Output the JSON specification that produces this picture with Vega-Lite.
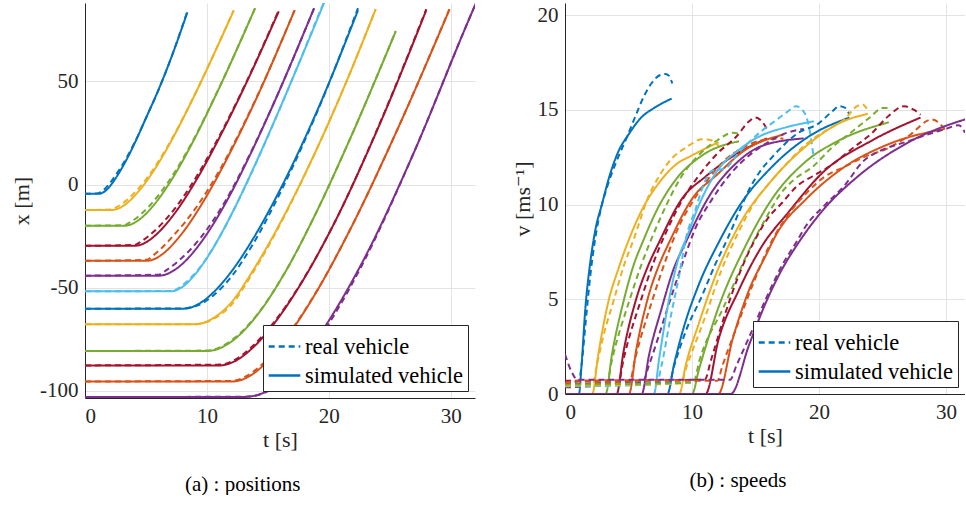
{
"$schema": "https://vega.github.io/schema/vega-lite/v6.json",
"padding": {"left": 10, "top": 3, "right": 0, "bottom": 0},
"spacing": 36,
"config": {
 "font": "'Liberation Serif', 'DejaVu Serif', serif",
 "view": {"stroke": null},
 "axis": {"domainColor": "#262626", "gridColor": "#e3e3e3", "ticks": false, "labelFont": "'Liberation Serif', 'DejaVu Serif', serif", "labelFontSize": 21, "labelColor": "#262626", "titleFont": "'Liberation Serif', 'DejaVu Serif', serif", "titleFontSize": 22, "titleFontWeight": "normal", "titleColor": "#262626", "labelPadding": 7},
 "legend": {"labelFont": "'Liberation Serif', 'DejaVu Serif', serif", "labelFontSize": 22.5, "labelColor": "#000", "fillColor": "white", "strokeColor": "#262626", "padding": 4, "symbolType": "stroke", "symbolSize": 1000, "symbolStrokeWidth": 2.5, "symbolStrokeColor": "#0072BD", "rowPadding": 0, "labelOffset": 3, "offset": 7},
 "title": {"font": "'Liberation Serif', 'DejaVu Serif', serif", "fontSize": 21, "fontWeight": "normal", "color": "#000"}
},
"resolve": {"scale": {"color": "independent", "strokeDash": "independent"}, "legend": {"strokeDash": "independent", "color": "independent"}},
"datasets": {
"pos": [
{"n":1,"k":"s","t":0,"x":-4.5},{"n":1,"k":"s","t":1.1,"x":-4.5},{"n":1,"k":"s","t":1.3,"x":-4.35},{"n":1,"k":"s","t":1.6,"x":-3.45},{"n":1,"k":"s","t":2,"x":-1.15},{"n":1,"k":"s","t":2.4,"x":2},{"n":1,"k":"s","t":2.9,"x":6.7},{"n":1,"k":"s","t":3.5,"x":13.1},{"n":1,"k":"s","t":4.2,"x":21.6},{"n":1,"k":"s","t":5,"x":32.2},{"n":1,"k":"s","t":6,"x":45.5},{"n":1,"k":"s","t":7,"x":60.3},{"n":1,"k":"s","t":8.4,"x":83.5},
{"n":1,"k":"r","t":0,"x":-4.5},{"n":1,"k":"r","t":1.1,"x":-4.2},{"n":1,"k":"r","t":1.3,"x":-3.55},{"n":1,"k":"r","t":1.6,"x":-2.25},{"n":1,"k":"r","t":2,"x":0.35},{"n":1,"k":"r","t":2.4,"x":3.5},{"n":1,"k":"r","t":2.9,"x":7.9},{"n":1,"k":"r","t":3.5,"x":13.9},{"n":1,"k":"r","t":4.2,"x":21.9},{"n":1,"k":"r","t":5,"x":32.2},{"n":1,"k":"r","t":6,"x":45.4},{"n":1,"k":"r","t":7,"x":60.3},{"n":1,"k":"r","t":8.4,"x":84},
{"n":2,"k":"s","t":0,"x":-12.4},{"n":2,"k":"s","t":2.15,"x":-12.4},{"n":2,"k":"s","t":2.6,"x":-11.95},{"n":2,"k":"s","t":3.46,"x":-8.94},{"n":2,"k":"s","t":4.2,"x":-4.65},{"n":2,"k":"s","t":5,"x":1.23},{"n":2,"k":"s","t":6.2,"x":12.03},{"n":2,"k":"s","t":7.4,"x":24.66},{"n":2,"k":"s","t":8.7,"x":39.77},{"n":2,"k":"s","t":10,"x":55.83},{"n":2,"k":"s","t":12.2,"x":84.3},
{"n":2,"k":"r","t":0,"x":-12.4},{"n":2,"k":"r","t":2.15,"x":-12.1},{"n":2,"k":"r","t":2.6,"x":-10.95},{"n":2,"k":"r","t":3.46,"x":-7.44},{"n":2,"k":"r","t":4.2,"x":-3.15},{"n":2,"k":"r","t":5,"x":2.43},{"n":2,"k":"r","t":6.2,"x":12.83},{"n":2,"k":"r","t":7.4,"x":25.06},{"n":2,"k":"r","t":8.7,"x":39.9},{"n":2,"k":"r","t":10,"x":55.9},{"n":2,"k":"r","t":12.2,"x":84.5},
{"n":3,"k":"s","t":0,"x":-20},{"n":3,"k":"s","t":3.2,"x":-20},{"n":3,"k":"s","t":3.7,"x":-19.48},{"n":3,"k":"s","t":4.65,"x":-16.1},{"n":3,"k":"s","t":5.4,"x":-11.68},{"n":3,"k":"s","t":6.1,"x":-6.5},{"n":3,"k":"s","t":7.3,"x":4.18},{"n":3,"k":"s","t":8.7,"x":18.95},{"n":3,"k":"s","t":10.8,"x":44.15},{"n":3,"k":"s","t":13.96,"x":85.55},
{"n":3,"k":"r","t":0,"x":-20},{"n":3,"k":"r","t":3.2,"x":-19.7},{"n":3,"k":"r","t":3.7,"x":-18.28},{"n":3,"k":"r","t":4.65,"x":-14.1},{"n":3,"k":"r","t":5.4,"x":-9.68},{"n":3,"k":"r","t":6.1,"x":-4.7},{"n":3,"k":"r","t":7.3,"x":5.38},{"n":3,"k":"r","t":8.7,"x":19.55},{"n":3,"k":"r","t":10.8,"x":44.35},{"n":3,"k":"r","t":13.96,"x":85.6},
{"n":4,"k":"s","t":0,"x":-29.7},{"n":4,"k":"s","t":4.07,"x":-29.7},{"n":4,"k":"s","t":4.6,"x":-29.12},{"n":4,"k":"s","t":5.6,"x":-25.52},{"n":4,"k":"s","t":6.5,"x":-20.25},{"n":4,"k":"s","t":7.4,"x":-13.63},{"n":4,"k":"s","t":9.2,"x":2.84},{"n":4,"k":"s","t":11.1,"x":23.55},{"n":4,"k":"s","t":13.2,"x":48.8},{"n":4,"k":"s","t":15.9,"x":83.97},
{"n":4,"k":"r","t":0,"x":-29.7},{"n":4,"k":"r","t":4.07,"x":-29.3},{"n":4,"k":"r","t":4.6,"x":-27.62},{"n":4,"k":"r","t":5.6,"x":-23.02},{"n":4,"k":"r","t":6.5,"x":-17.75},{"n":4,"k":"r","t":7.4,"x":-11.43},{"n":4,"k":"r","t":9.2,"x":4.34},{"n":4,"k":"r","t":11.1,"x":24.35},{"n":4,"k":"r","t":13.2,"x":49.2},{"n":4,"k":"r","t":15.9,"x":84.5},
{"n":5,"k":"s","t":0,"x":-37},{"n":5,"k":"s","t":5.04,"x":-37},{"n":5,"k":"s","t":5.6,"x":-36.36},{"n":5,"k":"s","t":6.5,"x":-33.07},{"n":5,"k":"s","t":7.4,"x":-27.76},{"n":5,"k":"s","t":8.2,"x":-21.84},{"n":5,"k":"s","t":10,"x":-5.37},{"n":5,"k":"s","t":12,"x":16.53},{"n":5,"k":"s","t":14,"x":40.93},{"n":5,"k":"s","t":17.2,"x":84.5},
{"n":5,"k":"r","t":0,"x":-37},{"n":5,"k":"r","t":5.04,"x":-36.5},{"n":5,"k":"r","t":5.6,"x":-34.36},{"n":5,"k":"r","t":6.5,"x":-29.57},{"n":5,"k":"r","t":7.4,"x":-23.76},{"n":5,"k":"r","t":8.2,"x":-18.34},{"n":5,"k":"r","t":10,"x":-3.37},{"n":5,"k":"r","t":12,"x":17.33},{"n":5,"k":"r","t":14,"x":41.23},{"n":5,"k":"r","t":17.2,"x":84.5},
{"n":6,"k":"s","t":0,"x":-44.2},{"n":6,"k":"s","t":6.04,"x":-44.2},{"n":6,"k":"s","t":6.6,"x":-43.64},{"n":6,"k":"s","t":7.6,"x":-40.39},{"n":6,"k":"s","t":8.5,"x":-35.44},{"n":6,"k":"s","t":9.5,"x":-28.19},{"n":6,"k":"s","t":11.5,"x":-9.39},{"n":6,"k":"s","t":13.5,"x":13.81},{"n":6,"k":"s","t":15.5,"x":39.51},{"n":6,"k":"s","t":18.8,"x":85.5},
{"n":6,"k":"r","t":0,"x":-44.2},{"n":6,"k":"r","t":6.04,"x":-43.7},{"n":6,"k":"r","t":6.6,"x":-41.84},{"n":6,"k":"r","t":7.6,"x":-37.39},{"n":6,"k":"r","t":8.5,"x":-32.44},{"n":6,"k":"r","t":9.5,"x":-25.69},{"n":6,"k":"r","t":11.5,"x":-8.19},{"n":6,"k":"r","t":13.5,"x":14.31},{"n":6,"k":"r","t":15.5,"x":39.6},{"n":6,"k":"r","t":18.8,"x":85.5},
{"n":7,"k":"s","t":0,"x":-51.8},{"n":7,"k":"s","t":7,"x":-51.8},{"n":7,"k":"s","t":7.4,"x":-51.44},{"n":7,"k":"s","t":8,"x":-49.61},{"n":7,"k":"s","t":9,"x":-43.81},{"n":7,"k":"s","t":9.6,"x":-39.13},{"n":7,"k":"s","t":10.5,"x":-30.94},{"n":7,"k":"s","t":11.9,"x":-15.82},{"n":7,"k":"s","t":13.7,"x":6.32},{"n":7,"k":"s","t":15.3,"x":27.52},{"n":7,"k":"s","t":17.5,"x":57.99},{"n":7,"k":"s","t":19.6,"x":87.9},{"n":7,"k":"s","t":19.8,"x":90.8},
{"n":7,"k":"r","t":0,"x":-51.8},{"n":7,"k":"r","t":7,"x":-51.6},{"n":7,"k":"r","t":7.4,"x":-51.1},{"n":7,"k":"r","t":8,"x":-48.8},{"n":7,"k":"r","t":9,"x":-43.2},{"n":7,"k":"r","t":9.6,"x":-38.9},{"n":7,"k":"r","t":10.5,"x":-30.9},{"n":7,"k":"r","t":11.9,"x":-15.9},{"n":7,"k":"r","t":13.7,"x":6.1},{"n":7,"k":"r","t":15.3,"x":27.3},{"n":7,"k":"r","t":17.5,"x":58},{"n":7,"k":"r","t":19.6,"x":88.3},{"n":7,"k":"r","t":19.8,"x":91},
{"n":8,"k":"s","t":0,"x":-60.2},{"n":8,"k":"s","t":8.06,"x":-60.2},{"n":8,"k":"s","t":8.6,"x":-59.77},{"n":8,"k":"s","t":9.3,"x":-58.0},{"n":8,"k":"s","t":10.55,"x":-52.2},{"n":8,"k":"s","t":12.1,"x":-41.5},{"n":8,"k":"s","t":13.7,"x":-27.2},{"n":8,"k":"s","t":16.3,"x":0.9},{"n":8,"k":"s","t":19.2,"x":37.8},{"n":8,"k":"s","t":22.4,"x":84.5},
{"n":8,"k":"r","t":0,"x":-60.2},{"n":8,"k":"r","t":8.06,"x":-60.1},{"n":8,"k":"r","t":8.6,"x":-59.6},{"n":8,"k":"r","t":9.3,"x":-58.5},{"n":8,"k":"r","t":10.55,"x":-53.7},{"n":8,"k":"r","t":12.1,"x":-44},{"n":8,"k":"r","t":13.7,"x":-29.7},{"n":8,"k":"r","t":16.3,"x":-0.6},{"n":8,"k":"r","t":19.2,"x":37.3},{"n":8,"k":"r","t":22.4,"x":85.5},
{"n":9,"k":"s","t":0,"x":-67.8},{"n":9,"k":"s","t":9,"x":-67.8},{"n":9,"k":"s","t":9.5,"x":-67.43},{"n":9,"k":"s","t":10.55,"x":-64.67},{"n":9,"k":"s","t":12,"x":-57.24},{"n":9,"k":"s","t":13.7,"x":-42.5},{"n":9,"k":"s","t":16.3,"x":-15.5},{"n":9,"k":"s","t":19,"x":17},{"n":9,"k":"s","t":21.6,"x":52},{"n":9,"k":"s","t":23.85,"x":85},
{"n":9,"k":"r","t":0,"x":-67.8},{"n":9,"k":"r","t":9,"x":-67.7},{"n":9,"k":"r","t":9.5,"x":-67.4},{"n":9,"k":"r","t":10.55,"x":-65.2},{"n":9,"k":"r","t":12,"x":-58.4},{"n":9,"k":"r","t":13.7,"x":-43.5},{"n":9,"k":"r","t":16.3,"x":-16},{"n":9,"k":"r","t":19,"x":17},{"n":9,"k":"r","t":21.6,"x":52},{"n":9,"k":"r","t":23.85,"x":85},
{"n":10,"k":"s","t":0,"x":-80.7},{"n":10,"k":"s","t":10,"x":-80.7},{"n":10,"k":"s","t":10.55,"x":-80.34},{"n":10,"k":"s","t":12.1,"x":-75.77},{"n":10,"k":"s","t":14.2,"x":-62.75},{"n":10,"k":"s","t":16.3,"x":-43.75},{"n":10,"k":"s","t":19,"x":-13.24},{"n":10,"k":"s","t":21.6,"x":20.17},{"n":10,"k":"s","t":25.5,"x":74.28},
{"n":10,"k":"r","t":0,"x":-80.7},{"n":10,"k":"r","t":10,"x":-80.5},{"n":10,"k":"r","t":10.55,"x":-80},{"n":10,"k":"r","t":12.1,"x":-75.2},{"n":10,"k":"r","t":14.2,"x":-62.5},{"n":10,"k":"r","t":16.3,"x":-43.75},{"n":10,"k":"r","t":19,"x":-13.24},{"n":10,"k":"r","t":21.6,"x":20.17},{"n":10,"k":"r","t":25.5,"x":74.5},
{"n":11,"k":"s","t":0,"x":-87.7},{"n":11,"k":"s","t":11.07,"x":-87.7},{"n":11,"k":"s","t":12.1,"x":-86.21},{"n":11,"k":"s","t":13.7,"x":-79.49},{"n":11,"k":"s","t":15.5,"x":-67.52},{"n":11,"k":"s","t":17.6,"x":-49.25},{"n":11,"k":"s","t":20.3,"x":-20.49},{"n":11,"k":"s","t":24.2,"x":29.5},{"n":11,"k":"s","t":28,"x":84.5},
{"n":11,"k":"r","t":0,"x":-87.7},{"n":11,"k":"r","t":11.07,"x":-87.3},{"n":11,"k":"r","t":12.1,"x":-85.6},{"n":11,"k":"r","t":13.7,"x":-78.6},{"n":11,"k":"r","t":15.5,"x":-66.8},{"n":11,"k":"r","t":17.6,"x":-49},{"n":11,"k":"r","t":20.3,"x":-20.49},{"n":11,"k":"r","t":24.2,"x":29.8},{"n":11,"k":"r","t":28,"x":85},
{"n":12,"k":"s","t":0,"x":-95.5},{"n":12,"k":"s","t":12.07,"x":-95.5},{"n":12,"k":"s","t":13.2,"x":-93.86},{"n":12,"k":"s","t":14.5,"x":-88.4},{"n":12,"k":"s","t":15.8,"x":-79.98},{"n":12,"k":"s","t":16.7,"x":-72.96},{"n":12,"k":"s","t":19,"x":-51.97},{"n":12,"k":"s","t":21.6,"x":-23.63},{"n":12,"k":"s","t":25.5,"x":24.93},{"n":12,"k":"s","t":29.9,"x":84.77},
{"n":12,"k":"r","t":0,"x":-95.5},{"n":12,"k":"r","t":12.07,"x":-95.2},{"n":12,"k":"r","t":13.2,"x":-93},{"n":12,"k":"r","t":14.5,"x":-87.4},{"n":12,"k":"r","t":15.8,"x":-79.3},{"n":12,"k":"r","t":16.7,"x":-72.5},{"n":12,"k":"r","t":19,"x":-51.8},{"n":12,"k":"r","t":21.6,"x":-23.6},{"n":12,"k":"r","t":25.5,"x":24.93},{"n":12,"k":"r","t":29.9,"x":85},
{"n":13,"k":"s","t":0,"x":-103},{"n":13,"k":"s","t":13.05,"x":-103},{"n":13,"k":"s","t":14.5,"x":-101.33},{"n":13,"k":"s","t":15.8,"x":-96.84},{"n":13,"k":"s","t":17.1,"x":-89.49},{"n":13,"k":"s","t":18.2,"x":-81.51},{"n":13,"k":"s","t":20.3,"x":-63.24},{"n":13,"k":"s","t":22.9,"x":-36.07},{"n":13,"k":"s","t":26.8,"x":13},{"n":13,"k":"s","t":31.5,"x":80},{"n":13,"k":"s","t":32.3,"x":91},
{"n":13,"k":"r","t":0,"x":-103},{"n":13,"k":"r","t":13.05,"x":-102.9},{"n":13,"k":"r","t":14.5,"x":-101.5},{"n":13,"k":"r","t":15.8,"x":-97.3},{"n":13,"k":"r","t":17.1,"x":-90.5},{"n":13,"k":"r","t":18.2,"x":-83},{"n":13,"k":"r","t":20.3,"x":-64.7},{"n":13,"k":"r","t":22.9,"x":-37.1},{"n":13,"k":"r","t":26.8,"x":13},{"n":13,"k":"r","t":31.5,"x":80},{"n":13,"k":"r","t":32.3,"x":91}
],
"spd": [
{"n":1,"k":"s","t":0,"v":0},{"n":1,"k":"s","t":1.1,"v":0},{"n":1,"k":"s","t":1.3,"v":1.5},{"n":1,"k":"s","t":1.6,"v":4.5},{"n":1,"k":"s","t":2,"v":7},{"n":1,"k":"s","t":2.4,"v":8.7},{"n":1,"k":"s","t":2.9,"v":10},{"n":1,"k":"s","t":3.5,"v":11.5},{"n":1,"k":"s","t":4.2,"v":12.8},{"n":1,"k":"s","t":5,"v":13.7},{"n":1,"k":"s","t":6,"v":14.6},{"n":1,"k":"s","t":7,"v":15.1},{"n":1,"k":"s","t":8.4,"v":15.6},
{"n":1,"k":"r","t":0,"v":0.5},{"n":1,"k":"r","t":0.6,"v":0.6},{"n":1,"k":"r","t":1.1,"v":0.7},{"n":1,"k":"r","t":1.3,"v":1.5},{"n":1,"k":"r","t":1.6,"v":3.6},{"n":1,"k":"r","t":2,"v":6.3},{"n":1,"k":"r","t":2.4,"v":8.3},{"n":1,"k":"r","t":2.8,"v":9.7},{"n":1,"k":"r","t":3.3,"v":10.9},{"n":1,"k":"r","t":4,"v":12.2},{"n":1,"k":"r","t":4.9,"v":13.6},{"n":1,"k":"r","t":5.5,"v":14.6},{"n":1,"k":"r","t":6.2,"v":15.7},{"n":1,"k":"r","t":6.8,"v":16.4},{"n":1,"k":"r","t":7.5,"v":16.85},{"n":1,"k":"r","t":7.9,"v":16.9},{"n":1,"k":"r","t":8.2,"v":16.8},{"n":1,"k":"r","t":8.45,"v":16.4},
{"n":2,"k":"s","t":0,"v":0},{"n":2,"k":"s","t":2.15,"v":0},{"n":2,"k":"s","t":2.6,"v":2},{"n":2,"k":"s","t":3.46,"v":5},{"n":2,"k":"s","t":4.2,"v":6.6},{"n":2,"k":"s","t":5,"v":8.1},{"n":2,"k":"s","t":6.2,"v":9.9},{"n":2,"k":"s","t":7.4,"v":11.15},{"n":2,"k":"s","t":8.7,"v":12.1},{"n":2,"k":"s","t":10,"v":12.6},{"n":2,"k":"s","t":12.1,"v":13.3},
{"n":2,"k":"r","t":0,"v":0.4},{"n":2,"k":"r","t":2.2,"v":0.5},{"n":2,"k":"r","t":2.5,"v":1.5},{"n":2,"k":"r","t":3,"v":3},{"n":2,"k":"r","t":3.86,"v":5},{"n":2,"k":"r","t":4.6,"v":6.7},{"n":2,"k":"r","t":5.4,"v":8.15},{"n":2,"k":"r","t":6.5,"v":10.3},{"n":2,"k":"r","t":7.5,"v":11.6},{"n":2,"k":"r","t":8.5,"v":12.5},{"n":2,"k":"r","t":9.5,"v":13},{"n":2,"k":"r","t":10.8,"v":13.45},{"n":2,"k":"r","t":11.5,"v":13.4},{"n":2,"k":"r","t":12.1,"v":13.1},
{"n":3,"k":"s","t":0,"v":0},{"n":3,"k":"s","t":3.2,"v":0},{"n":3,"k":"s","t":3.7,"v":2.1},{"n":3,"k":"s","t":4.65,"v":5},{"n":3,"k":"s","t":5.4,"v":6.8},{"n":3,"k":"s","t":6.1,"v":8},{"n":3,"k":"s","t":7.3,"v":9.8},{"n":3,"k":"s","t":8.7,"v":11.3},{"n":3,"k":"s","t":10.8,"v":12.6},{"n":3,"k":"s","t":13.7,"v":13.35},
{"n":3,"k":"r","t":0,"v":0.45},{"n":3,"k":"r","t":3.3,"v":0.6},{"n":3,"k":"r","t":3.7,"v":1.8},{"n":3,"k":"r","t":5.1,"v":5},{"n":3,"k":"r","t":6,"v":6.8},{"n":3,"k":"r","t":7,"v":8.5},{"n":3,"k":"r","t":8,"v":10},{"n":3,"k":"r","t":9,"v":11.3},{"n":3,"k":"r","t":10.5,"v":12.6},{"n":3,"k":"r","t":12,"v":13.4},{"n":3,"k":"r","t":13.2,"v":13.8},{"n":3,"k":"r","t":13.9,"v":13.7},
{"n":4,"k":"s","t":0,"v":0},{"n":4,"k":"s","t":4.07,"v":0},{"n":4,"k":"s","t":4.6,"v":2.2},{"n":4,"k":"s","t":5.6,"v":5},{"n":4,"k":"s","t":6.5,"v":6.7},{"n":4,"k":"s","t":7.4,"v":8},{"n":4,"k":"s","t":9.2,"v":10.3},{"n":4,"k":"s","t":11.1,"v":11.5},{"n":4,"k":"s","t":13.2,"v":12.55},{"n":4,"k":"s","t":15.9,"v":13.5},
{"n":4,"k":"r","t":0,"v":0.35},{"n":4,"k":"r","t":4.2,"v":0.55},{"n":4,"k":"r","t":4.6,"v":1.8},{"n":4,"k":"r","t":6,"v":5},{"n":4,"k":"r","t":7,"v":7},{"n":4,"k":"r","t":8,"v":8.6},{"n":4,"k":"r","t":9.2,"v":10.2},{"n":4,"k":"r","t":10.5,"v":11.5},{"n":4,"k":"r","t":12,"v":12.7},{"n":4,"k":"r","t":13.5,"v":13.6},{"n":4,"k":"r","t":14.5,"v":14.4},{"n":4,"k":"r","t":15,"v":14.6},{"n":4,"k":"r","t":15.5,"v":14.4},{"n":4,"k":"r","t":15.9,"v":14},
{"n":5,"k":"s","t":0,"v":0},{"n":5,"k":"s","t":5.04,"v":0},{"n":5,"k":"s","t":5.6,"v":2.3},{"n":5,"k":"s","t":6.5,"v":5},{"n":5,"k":"s","t":7.4,"v":6.8},{"n":5,"k":"s","t":8.2,"v":8},{"n":5,"k":"s","t":10,"v":10.3},{"n":5,"k":"s","t":12,"v":11.6},{"n":5,"k":"s","t":14,"v":12.8},{"n":5,"k":"s","t":17.2,"v":13.7},
{"n":5,"k":"r","t":0,"v":0.55},{"n":5,"k":"r","t":5.1,"v":0.65},{"n":5,"k":"r","t":5.5,"v":1.8},{"n":5,"k":"r","t":6.9,"v":5},{"n":5,"k":"r","t":8,"v":7.2},{"n":5,"k":"r","t":9,"v":8.9},{"n":5,"k":"r","t":10,"v":10.1},{"n":5,"k":"r","t":11,"v":11.1},{"n":5,"k":"r","t":12.5,"v":12.3},{"n":5,"k":"r","t":14,"v":13},{"n":5,"k":"r","t":15.5,"v":13.4},{"n":5,"k":"r","t":17.2,"v":13.5},
{"n":6,"k":"s","t":0,"v":0},{"n":6,"k":"s","t":6.04,"v":0},{"n":6,"k":"s","t":6.6,"v":2},{"n":6,"k":"s","t":7.6,"v":4.5},{"n":6,"k":"s","t":8.5,"v":6.5},{"n":6,"k":"s","t":9.5,"v":8},{"n":6,"k":"s","t":11.5,"v":10.6},{"n":6,"k":"s","t":13.5,"v":12.2},{"n":6,"k":"s","t":15.5,"v":13.1},{"n":6,"k":"s","t":18.8,"v":13.5},
{"n":6,"k":"r","t":0,"v":0.45},{"n":6,"k":"r","t":6.1,"v":0.6},{"n":6,"k":"r","t":6.6,"v":1.5},{"n":6,"k":"r","t":8.3,"v":5},{"n":6,"k":"r","t":9.3,"v":7},{"n":6,"k":"r","t":10.3,"v":8.8},{"n":6,"k":"r","t":11.5,"v":10.2},{"n":6,"k":"r","t":13,"v":11.6},{"n":6,"k":"r","t":14.5,"v":12.6},{"n":6,"k":"r","t":16,"v":13.3},{"n":6,"k":"r","t":17.5,"v":13.8},{"n":6,"k":"r","t":18.8,"v":14},
{"n":7,"k":"s","t":0,"v":0},{"n":7,"k":"s","t":7,"v":0},{"n":7,"k":"s","t":7.4,"v":1.8},{"n":7,"k":"s","t":8,"v":4.3},{"n":7,"k":"s","t":9,"v":7.3},{"n":7,"k":"s","t":9.6,"v":8.3},{"n":7,"k":"s","t":10.5,"v":9.9},{"n":7,"k":"s","t":11.9,"v":11.7},{"n":7,"k":"s","t":13.7,"v":12.9},{"n":7,"k":"s","t":15.3,"v":13.6},{"n":7,"k":"s","t":17.5,"v":14.1},{"n":7,"k":"s","t":19.6,"v":14.4},
{"n":7,"k":"r","t":0,"v":0.4},{"n":7,"k":"r","t":7.2,"v":0.5},{"n":7,"k":"r","t":7.6,"v":1.5},{"n":7,"k":"r","t":8.3,"v":4},{"n":7,"k":"r","t":9,"v":6.3},{"n":7,"k":"r","t":9.5,"v":8.15},{"n":7,"k":"r","t":10.3,"v":9.8},{"n":7,"k":"r","t":11,"v":11.2},{"n":7,"k":"r","t":11.6,"v":11.8},{"n":7,"k":"r","t":12.6,"v":11.9},{"n":7,"k":"r","t":13.5,"v":12.6},{"n":7,"k":"r","t":14.5,"v":13.3},{"n":7,"k":"r","t":15.5,"v":13.9},{"n":7,"k":"r","t":16.5,"v":14.4},{"n":7,"k":"r","t":17.5,"v":14.9},{"n":7,"k":"r","t":18.2,"v":15.2},{"n":7,"k":"r","t":18.9,"v":14.8},{"n":7,"k":"r","t":19.3,"v":13.8},{"n":7,"k":"r","t":19.6,"v":12.4},
{"n":8,"k":"s","t":0,"v":0},{"n":8,"k":"s","t":8.06,"v":0},{"n":8,"k":"s","t":8.6,"v":1.6},{"n":8,"k":"s","t":9.3,"v":3.4},{"n":8,"k":"s","t":10.55,"v":5.8},{"n":8,"k":"s","t":12.1,"v":8},{"n":8,"k":"s","t":13.7,"v":9.9},{"n":8,"k":"s","t":16.3,"v":12},{"n":8,"k":"s","t":19.2,"v":13.6},{"n":8,"k":"s","t":22.4,"v":14.6},
{"n":8,"k":"r","t":0,"v":0.5},{"n":8,"k":"r","t":8.2,"v":0.6},{"n":8,"k":"r","t":8.6,"v":1.5},{"n":8,"k":"r","t":9.5,"v":3.3},{"n":8,"k":"r","t":10.8,"v":5.2},{"n":8,"k":"r","t":11.8,"v":6.8},{"n":8,"k":"r","t":12.8,"v":8.2},{"n":8,"k":"r","t":13.7,"v":9.6},{"n":8,"k":"r","t":14.5,"v":10.8},{"n":8,"k":"r","t":15.3,"v":11.7},{"n":8,"k":"r","t":16.3,"v":12.5},{"n":8,"k":"r","t":18.4,"v":13.8},{"n":8,"k":"r","t":20,"v":14.3},{"n":8,"k":"r","t":21,"v":14.9},{"n":8,"k":"r","t":21.6,"v":15.2},{"n":8,"k":"r","t":22.1,"v":15.1},{"n":8,"k":"r","t":22.4,"v":14.75},
{"n":9,"k":"s","t":0,"v":0},{"n":9,"k":"s","t":9,"v":0},{"n":9,"k":"s","t":9.5,"v":1.5},{"n":9,"k":"s","t":10.55,"v":3.75},{"n":9,"k":"s","t":12,"v":6.5},{"n":9,"k":"s","t":13.7,"v":8.9},{"n":9,"k":"s","t":16.3,"v":11.3},{"n":9,"k":"s","t":19,"v":13.1},{"n":9,"k":"s","t":21.6,"v":14.3},{"n":9,"k":"s","t":23.85,"v":14.8},
{"n":9,"k":"r","t":0,"v":0.45},{"n":9,"k":"r","t":9.1,"v":0.55},{"n":9,"k":"r","t":9.6,"v":1.5},{"n":9,"k":"r","t":11,"v":4},{"n":9,"k":"r","t":12.3,"v":6.5},{"n":9,"k":"r","t":13.7,"v":8.6},{"n":9,"k":"r","t":15,"v":10.2},{"n":9,"k":"r","t":16.3,"v":11.3},{"n":9,"k":"r","t":17.5,"v":12.2},{"n":9,"k":"r","t":19,"v":13.2},{"n":9,"k":"r","t":20.5,"v":13.9},{"n":9,"k":"r","t":22,"v":14.5},{"n":9,"k":"r","t":23,"v":15.2},{"n":9,"k":"r","t":23.4,"v":15.3},{"n":9,"k":"r","t":23.85,"v":15},
{"n":10,"k":"s","t":0,"v":0},{"n":10,"k":"s","t":10,"v":0},{"n":10,"k":"s","t":10.55,"v":1.3},{"n":10,"k":"s","t":12.1,"v":4.6},{"n":10,"k":"s","t":14.2,"v":7.8},{"n":10,"k":"s","t":16.3,"v":10.3},{"n":10,"k":"s","t":19,"v":12.3},{"n":10,"k":"s","t":21.6,"v":13.4},{"n":10,"k":"s","t":25.5,"v":14.35},
{"n":10,"k":"r","t":0,"v":0.5},{"n":10,"k":"r","t":10.1,"v":0.6},{"n":10,"k":"r","t":10.6,"v":1.8},{"n":10,"k":"r","t":12.5,"v":4.6},{"n":10,"k":"r","t":14.5,"v":7.6},{"n":10,"k":"r","t":16,"v":9.5},{"n":10,"k":"r","t":17,"v":10.6},{"n":10,"k":"r","t":18,"v":11.3},{"n":10,"k":"r","t":19.5,"v":12},{"n":10,"k":"r","t":21,"v":13},{"n":10,"k":"r","t":22.5,"v":13.8},{"n":10,"k":"r","t":24,"v":14.6},{"n":10,"k":"r","t":25,"v":15.1},{"n":10,"k":"r","t":25.5,"v":15.1},
{"n":11,"k":"s","t":0,"v":0},{"n":11,"k":"s","t":11.07,"v":0},{"n":11,"k":"s","t":12.1,"v":2.9},{"n":11,"k":"s","t":13.7,"v":5.5},{"n":11,"k":"s","t":15.5,"v":7.8},{"n":11,"k":"s","t":17.6,"v":9.6},{"n":11,"k":"s","t":20.3,"v":11.7},{"n":11,"k":"s","t":24.2,"v":13.4},{"n":11,"k":"s","t":28,"v":14.6},
{"n":11,"k":"r","t":0,"v":0.7},{"n":11,"k":"r","t":11,"v":0.75},{"n":11,"k":"r","t":11.5,"v":1.8},{"n":11,"k":"r","t":12.5,"v":4},{"n":11,"k":"r","t":13.7,"v":6.3},{"n":11,"k":"r","t":15,"v":8.2},{"n":11,"k":"r","t":16,"v":9.3},{"n":11,"k":"r","t":17.1,"v":10.1},{"n":11,"k":"r","t":18.3,"v":11},{"n":11,"k":"r","t":19.5,"v":11.5},{"n":11,"k":"r","t":21,"v":12.1},{"n":11,"k":"r","t":22.5,"v":12.9},{"n":11,"k":"r","t":24.2,"v":13.8},{"n":11,"k":"r","t":25.5,"v":14.7},{"n":11,"k":"r","t":26.7,"v":15.2},{"n":11,"k":"r","t":27.5,"v":15},{"n":11,"k":"r","t":28,"v":14.75},
{"n":12,"k":"s","t":0,"v":0},{"n":12,"k":"s","t":12.07,"v":0},{"n":12,"k":"s","t":13.2,"v":2.9},{"n":12,"k":"s","t":14.5,"v":5.5},{"n":12,"k":"s","t":15.8,"v":7.3},{"n":12,"k":"s","t":16.7,"v":8.5},{"n":12,"k":"s","t":19,"v":10.3},{"n":12,"k":"s","t":21.6,"v":11.8},{"n":12,"k":"s","t":25.5,"v":13.2},{"n":12,"k":"s","t":29.9,"v":14},
{"n":12,"k":"r","t":0,"v":0.55},{"n":12,"k":"r","t":1,"v":0.7},{"n":12,"k":"r","t":12,"v":0.7},{"n":12,"k":"r","t":12.4,"v":1.5},{"n":12,"k":"r","t":13.5,"v":3.5},{"n":12,"k":"r","t":14.8,"v":5.8},{"n":12,"k":"r","t":16,"v":7.7},{"n":12,"k":"r","t":17.5,"v":9.4},{"n":12,"k":"r","t":19,"v":10.6},{"n":12,"k":"r","t":20.5,"v":11.5},{"n":12,"k":"r","t":22,"v":12},{"n":12,"k":"r","t":23.5,"v":12.5},{"n":12,"k":"r","t":25.5,"v":13},{"n":12,"k":"r","t":27,"v":13.6},{"n":12,"k":"r","t":28.9,"v":14.5},{"n":12,"k":"r","t":29.9,"v":14},
{"n":13,"k":"s","t":0,"v":0},{"n":13,"k":"s","t":13.05,"v":0},{"n":13,"k":"s","t":14.5,"v":2.6},{"n":13,"k":"s","t":15.8,"v":4.8},{"n":13,"k":"s","t":17.1,"v":6.6},{"n":13,"k":"s","t":18.2,"v":7.8},{"n":13,"k":"s","t":20.3,"v":9.7},{"n":13,"k":"s","t":22.9,"v":11.4},{"n":13,"k":"s","t":26.8,"v":13.2},{"n":13,"k":"s","t":31.5,"v":14.5},{"n":13,"k":"s","t":32,"v":14.6},
{"n":13,"k":"r","t":0,"v":2.1},{"n":13,"k":"r","t":0.5,"v":1.2},{"n":13,"k":"r","t":1,"v":0.75},{"n":13,"k":"r","t":13,"v":0.75},{"n":13,"k":"r","t":13.5,"v":1.5},{"n":13,"k":"r","t":14.5,"v":3},{"n":13,"k":"r","t":15.8,"v":5},{"n":13,"k":"r","t":17.1,"v":6.8},{"n":13,"k":"r","t":18.2,"v":8},{"n":13,"k":"r","t":19,"v":8.9},{"n":13,"k":"r","t":20.5,"v":10},{"n":13,"k":"r","t":22,"v":11},{"n":13,"k":"r","t":23.5,"v":12.3},{"n":13,"k":"r","t":25,"v":12.9},{"n":13,"k":"r","t":26.8,"v":13.3},{"n":13,"k":"r","t":28.5,"v":13.7},{"n":13,"k":"r","t":30,"v":14},{"n":13,"k":"r","t":31,"v":14.2},{"n":13,"k":"r","t":31.5,"v":13.8}
]
},
"hconcat": [
{
 "width": 390, "height": 395,
 "data": {"name": "pos"},
 "title": {"text": "(a) : positions", "orient": "bottom", "anchor": "middle", "frame": "bounds", "offset": 24},
 "mark": {"type": "line", "strokeWidth": 2, "clip": true, "interpolate": "monotone"},
 "encoding": {
  "x": {"field": "t", "type": "quantitative", "scale": {"domain": [0, 32], "nice": false}, "axis": {"title": "t [s]", "values": [0, 10, 20, 30], "titlePadding": 3}},
  "y": {"field": "x", "type": "quantitative", "scale": {"domain": [-103.5, 88], "nice": false}, "axis": {"title": "x [m]", "values": [-100, -50, 0, 50], "labelExpr": "'' + datum.value", "titlePadding": 6}},
  "color": {"field": "n", "type": "nominal", "legend": null, "scale": {"domain": [1,2,3,4,5,6,7,8,9,10,11,12,13], "range": ["#0072BD","#EDB120","#77AC30","#A2142F","#D95319","#7E2F8E","#4DBEEE","#0072BD","#EDB120","#77AC30","#A2142F","#D95319","#7E2F8E"]}},
  "strokeDash": {"field": "k", "type": "nominal", "scale": {"domain": ["r", "s"], "range": [[6, 4], [1, 0]]}, "legend": {"title": null, "orient": "bottom-right", "labelExpr": "datum.label == 'r' ? 'real vehicle' : 'simulated vehicle'"}}
 }
},
{
 "width": 400, "height": 391,
 "data": {"name": "spd"},
 "title": {"text": "(b) : speeds", "orient": "bottom", "anchor": "middle", "frame": "bounds", "offset": 24},
 "mark": {"type": "line", "strokeWidth": 2, "clip": true, "interpolate": "monotone"},
 "encoding": {
  "x": {"field": "t", "type": "quantitative", "scale": {"domain": [0, 31.5], "nice": false}, "axis": {"title": "t [s]", "values": [0, 10, 20, 30], "titlePadding": 3}},
  "y": {"field": "v", "type": "quantitative", "scale": {"domain": [0, 20.65], "nice": false}, "axis": {"title": "v [ms⁻¹]", "values": [0, 5, 10, 15, 20], "titlePadding": 3}},
  "color": {"field": "n", "type": "nominal", "legend": null, "scale": {"domain": [1,2,3,4,5,6,7,8,9,10,11,12,13], "range": ["#0072BD","#EDB120","#77AC30","#A2142F","#D95319","#7E2F8E","#4DBEEE","#0072BD","#EDB120","#77AC30","#A2142F","#D95319","#7E2F8E"]}},
  "strokeDash": {"field": "k", "type": "nominal", "scale": {"domain": ["r", "s"], "range": [[6, 4], [1, 0]]}, "legend": {"title": null, "orient": "bottom-right", "labelExpr": "datum.label == 'r' ? 'real vehicle' : 'simulated vehicle'"}}
 }
}
]
}
